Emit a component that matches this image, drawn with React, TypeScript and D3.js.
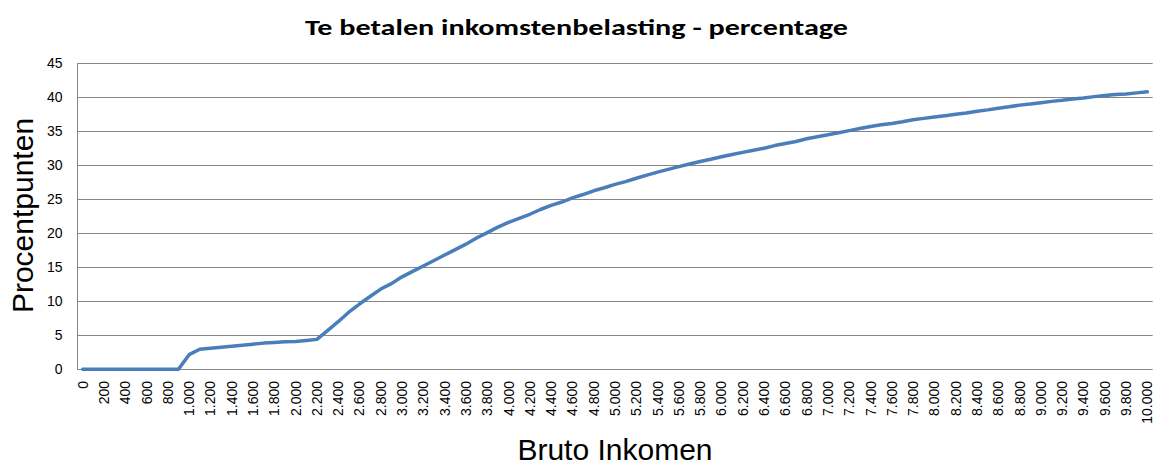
import React from "react";
import * as d3 from "d3";

// Bruto inkomen categories (0 .. 10.000 step 100)
const incomes: number[] = Array.from({ length: 101 }, (_, i) => i * 100);

// Te betalen inkomstenbelasting - percentage
const taxPct: number[] = [
  0, 0, 0, 0, 0, 0, 0, 0, 0, 0,
  2.15, 2.95, 3.1, 3.25, 3.4, 3.55, 3.7, 3.85, 3.95, 4.05,
  4.1, 4.25, 4.4, 5.7, 7.0, 8.4, 9.6, 10.7, 11.8, 12.6,
  13.6, 14.4, 15.2, 16.0, 16.8, 17.6, 18.4, 19.3, 20.1, 20.9,
  21.6, 22.2, 22.8, 23.5, 24.1, 24.6, 25.2, 25.7, 26.25, 26.7,
  27.2, 27.6, 28.1, 28.55, 29.0, 29.4, 29.8, 30.2, 30.55, 30.9,
  31.25, 31.6, 31.9, 32.2, 32.5, 32.9, 33.2, 33.5, 33.9, 34.2,
  34.5, 34.8, 35.1, 35.4, 35.7, 35.95, 36.15, 36.4, 36.7, 36.9,
  37.1, 37.3, 37.5, 37.7, 37.95, 38.15, 38.4, 38.6, 38.85, 39.0,
  39.2, 39.4, 39.55, 39.75, 39.9, 40.1, 40.25, 40.4, 40.5, 40.65,
  40.8,
];

const yTicks: number[] = [0, 5, 10, 15, 20, 25, 30, 35, 40, 45];
const xTickValues: number[] = incomes.filter((v) => v % 200 === 0);

const title = "Te betalen inkomstenbelasting - percentage";
const yTitle = "Procentpunten";
const xTitle = "Bruto Inkomen";

const W = 1168;
const H = 470;
const plot = { left: 77.3, right: 1152.7, top: 63.3, bottom: 369.3 };

const nl = d3.formatLocale({
  decimal: ",",
  thousands: ".",
  grouping: [3],
  currency: ["€ ", ""],
});
const fmt = nl.format(",");

export default function App() {
  const x = d3
    .scalePoint<number>()
    .domain(incomes)
    .range([plot.left, plot.right])
    .padding(0.5);
  const y = d3.scaleLinear().domain([0, 45]).range([plot.bottom, plot.top]);

  const line = d3
    .line<number>()
    .x((_, i) => x(incomes[i]) as number)
    .y((d) => y(d));

  const arial = "Arial, 'Liberation Sans', sans-serif";

  return (
    <div style={{ position: "absolute", left: 0, top: 0 }}>
      <svg width={W} height={H} style={{ display: "block", background: "#fff" }}>
        <rect x={0} y={0} width={W} height={H} fill="#fff" />
        <text
          x={576.5}
          y={35}
          textAnchor="middle"
          fontFamily="Carlito, Lato, 'Open Sans', sans-serif"
          fontWeight="bold"
          fontSize={23}
          textLength={543}
          lengthAdjust="spacingAndGlyphs"
          fill="#000"
        >
          {title}
        </text>

        {/* gridlines */}
        {yTicks.map((t) => (
          <line
            key={"g" + t}
            x1={plot.left}
            x2={plot.right}
            y1={Math.round(y(t)) + 0.5}
            y2={Math.round(y(t)) + 0.5}
            stroke="#868686"
            strokeWidth={1}
          />
        ))}
        {/* y axis line */}
        <line
          x1={Math.round(plot.left) + 0.5}
          x2={Math.round(plot.left) + 0.5}
          y1={plot.top}
          y2={Math.round(plot.bottom) + 0.5}
          stroke="#868686"
          strokeWidth={1}
        />

        {/* y tick labels */}
        {yTicks.map((t) => (
          <text
            key={"yl" + t}
            x={62.5}
            y={y(t)}
            dy="0.35em"
            textAnchor="end"
            fontFamily={arial}
            fontSize={14}
            fill="#000"
          >
            {t}
          </text>
        ))}

        {/* x tick labels */}
        {xTickValues.map((v) => {
          const px = x(v) as number;
          return (
            <text
              key={"xl" + v}
              transform={`translate(${px + 5},${381}) rotate(-90)`}
              textAnchor="end"
              fontFamily={arial}
              fontSize={14}
              fill="#000"
            >
              {fmt(v)}
            </text>
          );
        })}

        {/* series line */}
        <path
          d={line(taxPct) || ""}
          fill="none"
          stroke="#4A7EBB"
          strokeWidth={3.5}
          strokeLinejoin="round"
          strokeLinecap="round"
        />

        {/* axis titles */}
        <text
          transform={`translate(33.3,215.5) rotate(-90)`}
          textAnchor="middle"
          fontFamily={arial}
          fontSize={30}
          fill="#000"
        >
          {yTitle}
        </text>
        <text
          x={615}
          y={460}
          textAnchor="middle"
          fontFamily={arial}
          fontSize={30}
          fill="#000"
        >
          {xTitle}
        </text>
      </svg>
    </div>
  );
}
